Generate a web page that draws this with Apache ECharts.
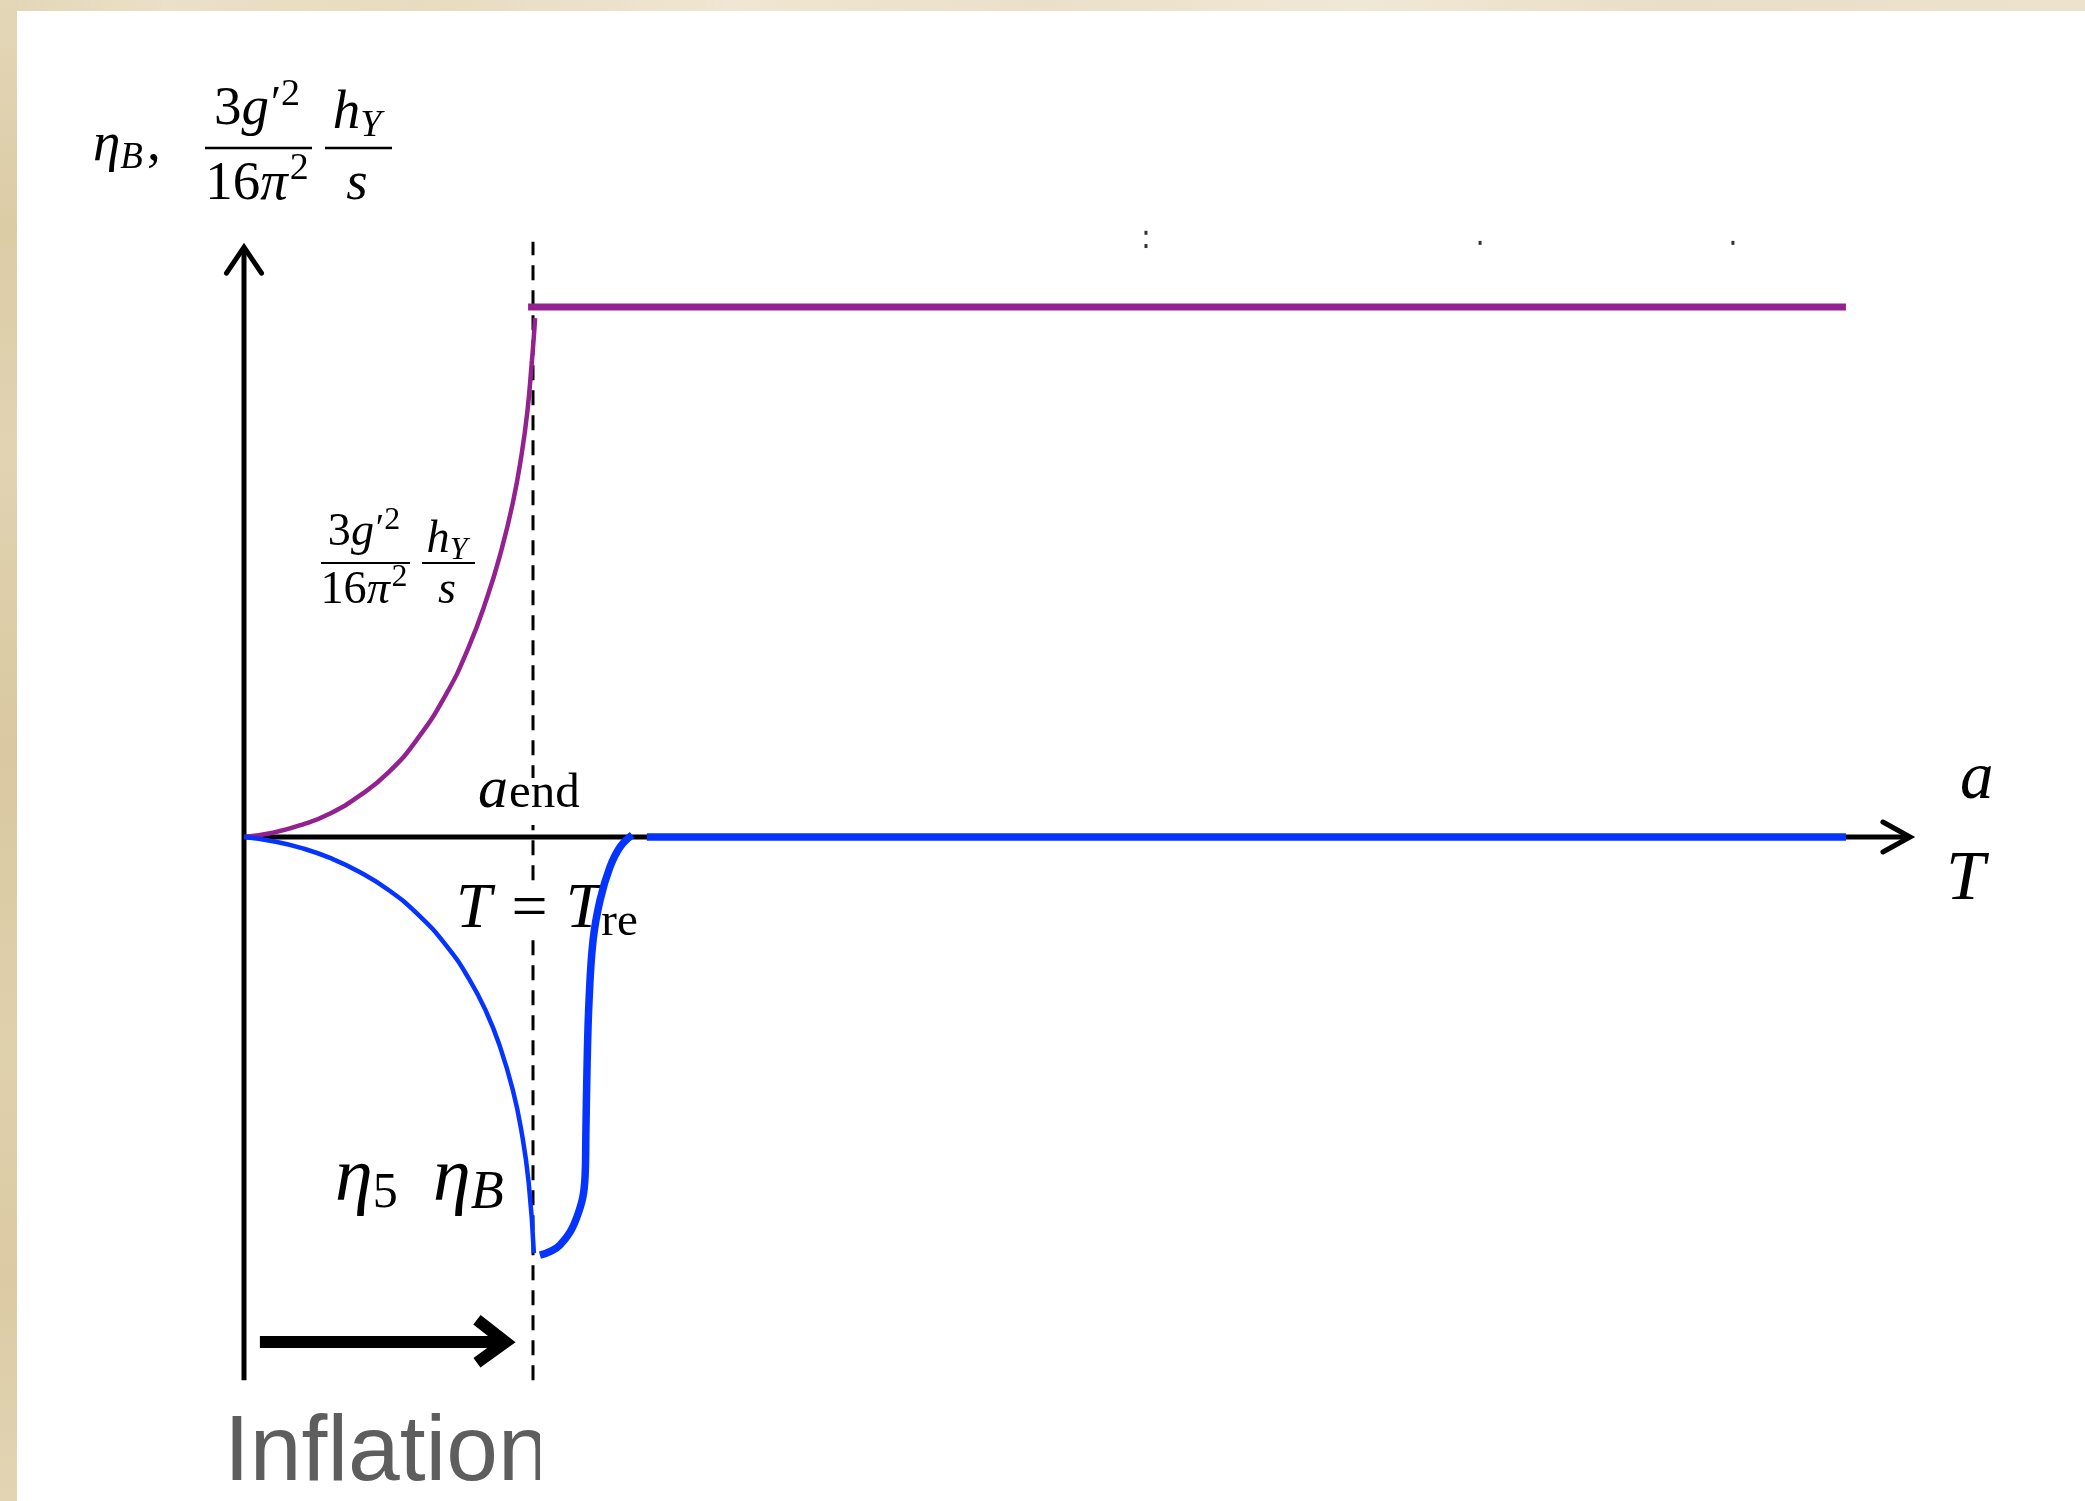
<!DOCTYPE html>
<html>
<head>
<meta charset="utf-8">
<title>Baryon asymmetry and hypermagnetic helicity</title>
<script src="https://cdn.jsdelivr.net/npm/echarts/dist/echarts.min.js"></script>
<style>
  html, body { margin: 0; padding: 0; background: #ffffff; }
  #chart { width: 2085px; height: 1501px; }
</style>
</head>
<body>
<div id="chart"></div>
<script>
// ---- data (x in units of a_end, y in units of the final helicity plateau) ----
const helicityRise   = [[0,0],[0.1,0.008],[0.2,0.023],[0.3,0.045],[0.4,0.078],[0.5,0.122],[0.6,0.185],[0.7,0.27],[0.775,0.355],[0.84,0.45],[0.89,0.54],[0.93,0.63],[0.96,0.72],[0.98,0.80],[0.995,0.89],[1.005,0.96],[1.007,0.979]];
const helicityPlateau = [[0.983,1.0],[5.543,1.0]];
const etaFall        = [[0,0],[0.1,-0.008],[0.2,-0.021],[0.3,-0.040],[0.4,-0.066],[0.5,-0.100],[0.6,-0.145],[0.7,-0.205],[0.78,-0.269],[0.84,-0.332],[0.886,-0.396],[0.93,-0.477],[0.96,-0.555],[0.985,-0.652],[1.003,-0.785]];
const etaRebound     = [[1.024,-0.789],[1.093,-0.770],[1.152,-0.717],[1.180,-0.642],[1.183,-0.559],[1.187,-0.434],[1.194,-0.308],[1.208,-0.194],[1.232,-0.119],[1.266,-0.057],[1.301,-0.019],[1.343,0.004]];
const etaTail        = [[1.394,0],[5.543,0]];
const aEnd           = 1;
const yAxisSpan      = [-1.025, 1.113];
const xAxisSpan      = [0, 5.765];
const dashedSpan     = [-1.025, 1.123];
const yArrowHead     = [[-0.0606,1.064],[0,1.113],[0.0606,1.064]];
const xArrowHead     = [[5.671,0.0283],[5.765,0],[5.671,-0.0283]];
const inflationShaft = [[0.055,-0.953],[0.905,-0.953]];
const inflationHead  = [[0.806,-0.911],[0.905,-0.953],[0.806,-0.992]];
const specks         = [[3.121,1.140],[3.121,1.115],[4.277,1.121],[5.152,1.121]];

const PURPLE = '#93218f';
const BLUE = '#0533ff';
const SERIF = '"Liberation Serif", "Times New Roman", serif';
const SANS = '"Liberation Sans", Arial, sans-serif';

// ---- text layout helpers: place glyph runs on a baseline ----
const mctx = document.createElement('canvas').getContext('2d');
function fontOf(p) { return (p.it ? 'italic ' : '') + p.s + 'px ' + (p.fam || SERIF); }
function textW(p) { mctx.font = fontOf(p); mctx.textBaseline = 'alphabetic'; return mctx.measureText(p.t).width; }
function baseOff(font) {
  mctx.font = font;
  mctx.textBaseline = 'middle';
  const a = mctx.measureText('H').actualBoundingBoxAscent;
  mctx.textBaseline = 'alphabetic';
  const c = mctx.measureText('H').actualBoundingBoxAscent;
  return c - a;
}
function run(pieces, x, base, align, z) {
  let total = 0;
  const ws = pieces.map(p => { const w = textW(p); total += w + (p.dx || 0); return w; });
  let cx = align === 'center' ? x - total / 2 : x;
  const els = [];
  pieces.forEach((p, i) => {
    cx += p.dx || 0;
    const f = fontOf(p);
    els.push({
      type: 'text', z: z || 3, silent: true,
      x: cx, y: base + (p.dy || 0) - baseOff(f),
      style: {
        text: p.t, fontSize: p.s, fontFamily: p.fam || SERIF,
        fontStyle: p.it ? 'italic' : 'normal', fill: p.fill || '#000',
        align: 'left', verticalAlign: 'middle'
      }
    });
    cx += ws[i];
  });
  return els;
}
function bar(x1, x2, y, w) {
  return { type: 'line', z: 3, silent: true, shape: { x1: x1, y1: y, x2: x2, y2: y }, style: { stroke: '#000', lineWidth: w } };
}
// helicity fraction  3g'^2/(16 pi^2) * h_Y/s
function helicityFrac(k, c1, c2, numBase, hBase, denBase, barY, bar1, bar2) {
  const S = 55 * k, s = 38 * k;
  return [].concat(
    run([{ t: '3', s: S }, { t: 'g', s: S, it: true }, { t: '′', s: 46 * k, dy: -6 * k, dx: 2 * k }, { t: '2', s: s, dy: -19 * k }], c1, numBase, 'center'),
    run([{ t: '16', s: S }, { t: 'π', s: S, it: true }, { t: '2', s: s, dy: -20 * k, dx: 2 * k }], c1, denBase, 'center'),
    run([{ t: 'h', s: S, it: true }, { t: 'Y', s: s, it: true, dy: 8 * k }], c2, hBase, 'center'),
    run([{ t: 's', s: S, it: true }], c2, denBase, 'center'),
    [bar(bar1[0], bar1[1], barY, 2.6 * k), bar(bar2[0], bar2[1], barY, 2.6 * k)]
  );
}

const labels = [].concat(
  // y-axis title
  run([{ t: 'η', s: 55, it: true }, { t: 'B', s: 37, it: true, dy: 8 }, { t: ',', s: 55, dx: 4 }], 93, 160, 'left'),
  helicityFrac(1, 257, 357, 124, 128, 199, 148, [205, 312], [325, 392]),
  // curve label
  helicityFrac(0.84, 364, 447, 545, 552, 603, 563, [321, 410], [422, 475]),
  run([{ t: 'a', s: 60, it: true }, { t: 'end', s: 49, dx: 1 }], 478, 807, 'left'),
  run([{ t: 'T', s: 64, it: true }, { t: '=', s: 64, dx: 20 }, { t: 'T', s: 64, it: true, dx: 18 }, { t: 're', s: 47, dx: 0, dy: 8 }], 456, 927, 'left'),
  run([{ t: 'η', s: 76, it: true }, { t: '5', s: 50, dy: 7 }], 335, 1200, 'left'),
  run([{ t: 'η', s: 76, it: true }, { t: 'B', s: 54, it: true, dy: 8 }], 433, 1200, 'left'),
  run([{ t: 'a', s: 67, it: true }], 1960, 798, 'left'),
  run([{ t: 'T', s: 70, it: true }], 1946, 899, 'left'),
  run([{ t: 'Inflation', s: 93, fam: SANS, fill: '#5e5e5e' }], 224, 1480, 'left')
);

const chart = echarts.init(document.getElementById('chart'), null, { renderer: 'canvas' });

function lineSeries(data, color, width, z, extra) {
  return Object.assign({
    type: 'line', data: data, symbol: 'none', showSymbol: false, silent: true, z: z, clip: false,
    lineStyle: { color: color, width: width, cap: 'butt' },
    animation: false
  }, extra || {});
}

chart.setOption({
  animation: false,
  backgroundColor: '#ffffff',
  grid: { left: 99.5, top: 201, width: 1878.5, height: 1272 },
  xAxis: { type: 'value', min: -0.5, max: 6, show: false },
  yAxis: { type: 'value', min: -1.2, max: 1.2, show: false },
  series: [
    lineSeries([[0, yAxisSpan[0]], [0, yAxisSpan[1]]], '#000', 5, 1),
    lineSeries(yArrowHead, '#000', 5, 1, { lineStyle: { color: '#000', width: 5, cap: 'round', join: 'miter' } }),
    lineSeries([[xAxisSpan[0], 0], [xAxisSpan[1], 0]], '#000', 5, 1),
    lineSeries(xArrowHead, '#000', 5, 1, { lineStyle: { color: '#000', width: 5, cap: 'round', join: 'miter' } }),
    lineSeries([[aEnd, dashedSpan[0]], [aEnd, dashedSpan[1]]], '#000', 3, 1, { lineStyle: { color: '#000', width: 3, type: [15, 10] } }),
    lineSeries(inflationShaft, '#000', 12, 1),
    lineSeries(inflationHead, '#000', 12, 1, { lineStyle: { color: '#000', width: 12, cap: 'butt', join: 'miter' } }),
    lineSeries(helicityRise, PURPLE, 4.5, 5, { smooth: 0.5 }),
    lineSeries(helicityPlateau, PURPLE, 7, 5),
    lineSeries(etaFall, BLUE, 4.5, 5, { smooth: 0.5 }),
    lineSeries(etaRebound, BLUE, 7.5, 5, { smooth: 0.4 }),
    lineSeries(etaTail, BLUE, 7.5, 5),
    { type: 'scatter', data: specks, symbol: 'rect', symbolSize: [3, 4], itemStyle: { color: '#000' }, silent: true, z: 1 }
  ],
  graphic: [].concat(
    // knock out the dashed line behind its labels
    [
      { type: 'rect', z: 2, silent: true, shape: { x: 525, y: 778, width: 16, height: 47 }, style: { fill: '#fff' } },
      { type: 'rect', z: 2, silent: true, shape: { x: 525, y: 887, width: 16, height: 50 }, style: { fill: '#fff' } }
    ],
    labels,
    [
      // frame edge crops the label
      { type: 'rect', z: 10, silent: true, shape: { x: 540, y: 1392, width: 160, height: 109 }, style: { fill: '#fff' } },
      // parchment border
      { type: 'rect', z: 20, silent: true, shape: { x: 0, y: 0, width: 2085, height: 11 },
        style: { fill: new echarts.graphic.LinearGradient(0, 0, 1, 0, [
          { offset: 0, color: '#e3d6b6' }, { offset: 0.08, color: '#ebe0c8' }, { offset: 0.2, color: '#e7dbc0' },
          { offset: 0.35, color: '#efe6d3' }, { offset: 0.5, color: '#eae0ca' }, { offset: 0.65, color: '#f0e8d7' },
          { offset: 0.8, color: '#e9dec7' }, { offset: 1, color: '#ece3cf' }]) } },
      { type: 'rect', z: 20, silent: true, shape: { x: 0, y: 0, width: 17, height: 1501 },
        style: { fill: new echarts.graphic.LinearGradient(0, 0, 0, 1, [
          { offset: 0, color: '#e4d7b8' }, { offset: 0.15, color: '#dccca6' }, { offset: 0.3, color: '#e2d4b2' },
          { offset: 0.5, color: '#d9c8a0' }, { offset: 0.7, color: '#e0d1ad' }, { offset: 0.85, color: '#dbcaa3' },
          { offset: 1, color: '#e3d5b4' }]) } }
    ]
  )
});
</script>
</body>
</html>
